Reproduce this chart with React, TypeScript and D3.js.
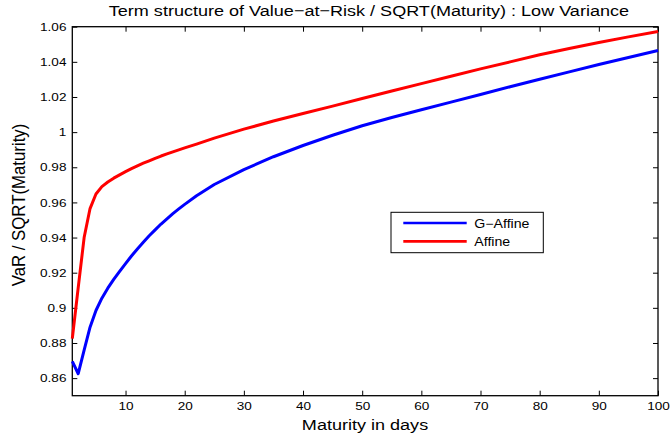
import React, {useEffect, useRef} from 'react'
import * as d3 from 'd3'

const days = [1, 2, 3, 4, 5, 6, 7, 8, 9, 10, 11, 12, 13, 14, 15, 16, 17, 18, 19, 20, 22, 25, 30, 35, 40, 45, 50, 55, 60, 65, 70, 75, 80, 85, 90, 95, 100]
const gAffine = [0.8695, 0.8625, 0.876, 0.889, 0.8985, 0.9055, 0.9112, 0.9162, 0.9208, 0.9252, 0.9295, 0.9335, 0.9373, 0.941, 0.9444, 0.9477, 0.9507, 0.9536, 0.9563, 0.9589, 0.9638, 0.9702, 0.9787, 0.986, 0.9924, 0.9982, 1.0036, 1.0083, 1.0127, 1.0171, 1.0214, 1.0258, 1.0301, 1.0343, 1.0385, 1.0425, 1.0465]
const affine = [0.8825, 0.9115, 0.94, 0.9565, 0.9648, 0.969, 0.9716, 0.9738, 0.9757, 0.9775, 0.9792, 0.9808, 0.9823, 0.9837, 0.9851, 0.9864, 0.9876, 0.9888, 0.9899, 0.991, 0.9932, 0.9966, 1.0017, 1.0063, 1.0106, 1.0148, 1.0191, 1.0234, 1.0276, 1.0318, 1.036, 1.04, 1.044, 1.0476, 1.051, 1.0542, 1.0573]
const xTicks = [10, 20, 30, 40, 50, 60, 70, 80, 90, 100]
const yTicks = [0.86, 0.88, 0.9, 0.92, 0.94, 0.96, 0.98, 1, 1.02, 1.04, 1.06]
const series = [
    {name: 'G\u2212Affine', values: gAffine, color: '#0000ff'},
    {name: 'Affine', values: affine, color: '#ff0000'},
]

const W = 672, H = 440
const left = 72.3, right = 658, top = 26.7, bottom = 395.7
const stretch = 1.18 // picture is wider than tall, glyphs look stretched
const font = '"Liberation Sans", Arial, sans-serif'

export default function App() {
    const ref = useRef<SVGSVGElement>(null)

    useEffect(() => {
        const svg = d3.select(ref.current)
        svg.selectAll('*').remove()

        const x = d3.scaleLinear().domain([1, 100]).range([left, right])
        const y = d3.scaleLinear().domain([0.85, 1.06]).range([bottom, top])

        const styleAxis = (g: any) => {
            g.select('.domain').remove()
            g.selectAll('.tick line').attr('stroke', '#000').attr('stroke-width', 1)
            g.selectAll('text')
                .attr('fill', '#000')
                .style('font-family', font)
                .style('font-size', '11.5px')
                .attr('transform', `scale(${stretch},1)`)
        }

        svg.append('g')
            .attr('transform', `translate(0,${bottom})`)
            .call(d3.axisBottom(x).tickValues(xTicks).tickSize(-5).tickSizeOuter(0).tickPadding(6).tickFormat(d3.format('d')))
            .call(styleAxis)
        svg.append('g')
            .attr('transform', `translate(0,${top})`)
            .call(d3.axisTop(x).tickValues(xTicks).tickSize(-5).tickSizeOuter(0).tickFormat(() => ''))
            .call(styleAxis)
        svg.append('g')
            .attr('transform', `translate(${left},0)`)
            .call(d3.axisLeft(y).tickValues(yTicks).tickSize(-5).tickSizeOuter(0).tickPadding(5).tickFormat(d => d3.format('')(+(+d).toFixed(2))))
            .call(styleAxis)
        svg.append('g')
            .attr('transform', `translate(${right},0)`)
            .call(d3.axisRight(y).tickValues(yTicks).tickSize(-5).tickSizeOuter(0).tickFormat(() => ''))
            .call(styleAxis)

        svg.append('rect')
            .attr('x', left).attr('y', top)
            .attr('width', right - left).attr('height', bottom - top)
            .attr('fill', 'none').attr('stroke', '#000').attr('stroke-width', 1.3)

        const line = d3.line<number>()
            .x((d, i) => x(days[i]))
            .y(d => y(d))

        series.forEach(s => {
            svg.append('path')
                .attr('d', line(s.values))
                .attr('fill', 'none')
                .attr('stroke', s.color)
                .attr('stroke-width', 3)
                .attr('stroke-linejoin', 'round')
        })

        const label = (tx: number, ty: number, text: string, size: number, rotate = false, sc = stretch) => {
            svg.append('text')
                .attr('transform', rotate
                    ? `translate(${tx},${ty}) rotate(-90) scale(1,${sc})`
                    : `translate(${tx},${ty}) scale(${sc},1)`)
                .attr('text-anchor', 'middle')
                .style('font-family', font)
                .style('font-size', `${size}px`)
                .attr('fill', '#000')
                .text(text)
        }

        label(368.9, 16, 'Term structure of Value\u2212at\u2212Risk / SQRT(Maturity) : Low Variance', 15.3)
        label(365, 430, 'Maturity in days', 15.3)
        label(25, 205, 'VaR / SQRT(Maturity)', 16.8, true, 1.06)

        // legend
        const lg = svg.append('g')
        lg.append('rect')
            .attr('x', 391).attr('y', 212.3)
            .attr('width', 152.3).attr('height', 40.4)
            .attr('fill', '#fff').attr('stroke', '#000').attr('stroke-width', 1)
        series.forEach((s, i) => {
            const ly = 223 + i * 18.3
            lg.append('line')
                .attr('x1', 403.3).attr('x2', 466.7)
                .attr('y1', ly).attr('y2', ly)
                .attr('stroke', s.color).attr('stroke-width', 2.7)
            lg.append('text')
                .attr('transform', `translate(474.3,${ly + 4.8}) scale(${stretch},1)`)
                .style('font-family', font)
                .style('font-size', '12px')
                .attr('fill', '#000')
                .text(s.name)
        })
    }, [])

    return (
        <svg ref={ref} width={W} height={H} style={{position: 'absolute', left: 0, top: 0, background: '#fff'}} />
    )
}
